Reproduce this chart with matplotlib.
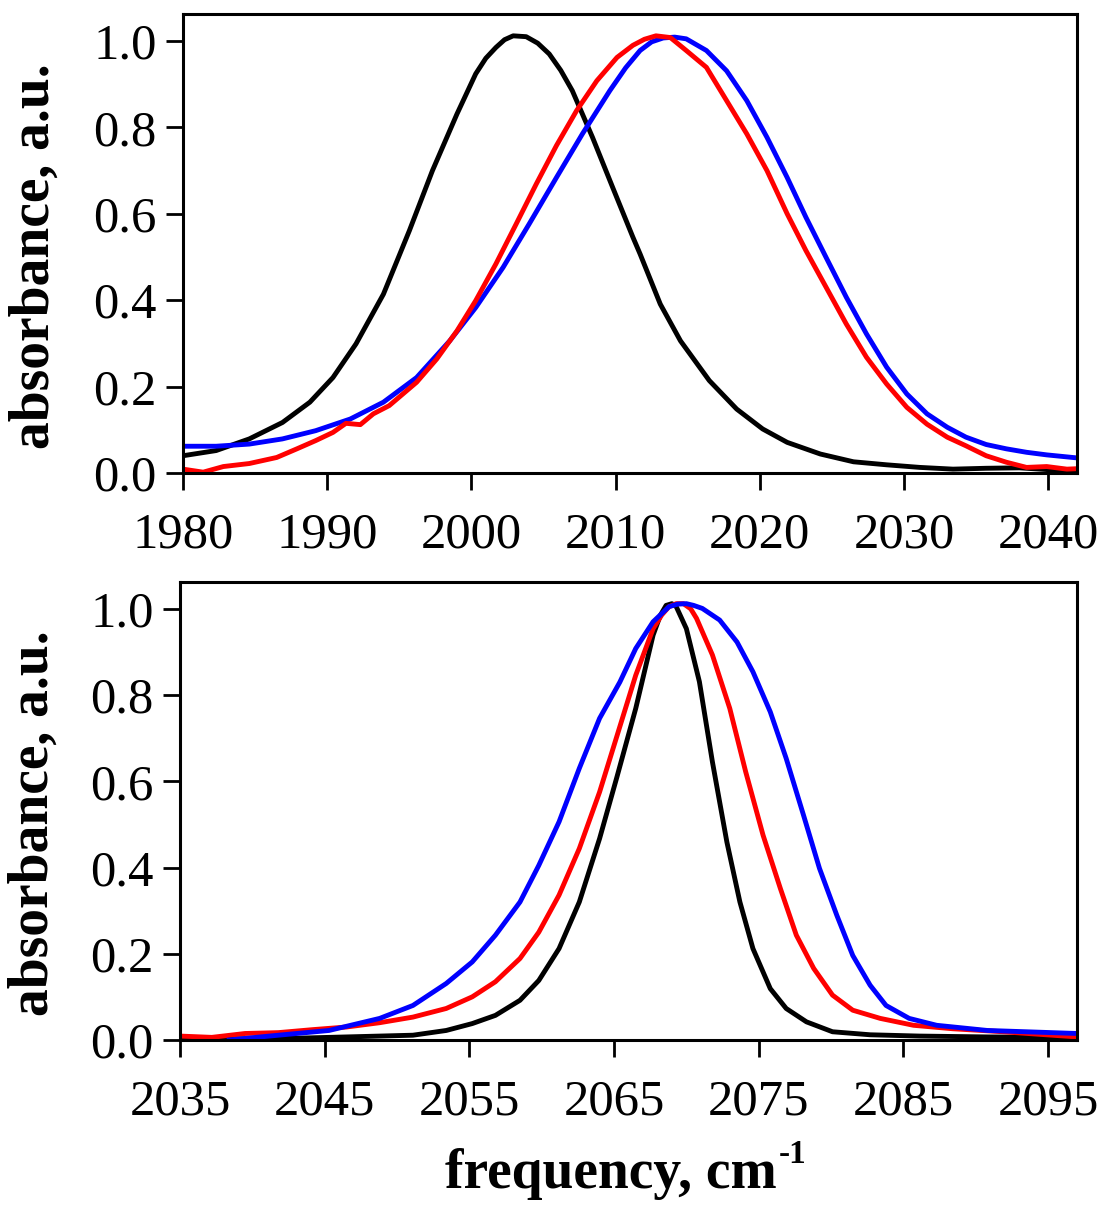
import matplotlib
matplotlib.use("Agg")
import matplotlib.pyplot as plt
from matplotlib.ticker import FormatStrFormatter
from matplotlib.transforms import offset_copy

plt.rcParams['font.family'] = ['Liberation Serif', 'DejaVu Serif']

# upper band, 1980-2042 cm-1
top_black_x = [1980, 1982.3, 1984.6, 1986.9, 1988.8, 1990.4, 1992.0, 1993.9, 1995.7, 1997.3,
               1999.0, 2000.3, 2001.0, 2001.7, 2002.3, 2002.9, 2003.8, 2004.6, 2005.4, 2006.2, 2007.0,
               2008.4, 2009.8, 2011.2, 2011.7, 2013.1, 2014.5, 2016.5, 2018.4, 2020.2, 2021.9,
               2024.2, 2026.5, 2028.8, 2031.1, 2033.4, 2035.7, 2038.0, 2040.4, 2042.0]
top_black_y = [0.040, 0.052, 0.079, 0.117, 0.164, 0.221, 0.299, 0.414, 0.561, 0.700,
               0.831, 0.924, 0.960, 0.985, 1.003, 1.012, 1.010, 0.995, 0.970, 0.932, 0.885,
               0.777, 0.661, 0.546, 0.507, 0.391, 0.306, 0.214, 0.148, 0.102, 0.071,
               0.044, 0.026, 0.019, 0.013, 0.009, 0.011, 0.012, 0.007, 0.007]

top_red_x = [1980, 1981.4, 1982.8, 1984.6, 1986.5, 1987.9, 1989.2, 1990.4, 1991.3, 1992.3,
             1993.2, 1994.3, 1996.2, 1997.6, 1999.0, 2000.3, 2001.7, 2003.1, 2004.5, 2005.9,
             2007.3, 2008.7, 2010.1, 2011.2, 2012.0, 2012.8, 2013.8, 2014.9, 2016.3, 2017.7, 2019.1,
             2020.5, 2021.9, 2023.2, 2024.6, 2026.0, 2027.4, 2028.8, 2030.2, 2031.6, 2033.0,
             2034.3, 2035.7, 2037.1, 2038.5, 2039.9, 2041.3, 2042.0]
top_red_y = [0.009, 0.002, 0.015, 0.022, 0.036, 0.056, 0.075, 0.094, 0.115, 0.112,
             0.137, 0.156, 0.210, 0.264, 0.329, 0.399, 0.484, 0.576, 0.669, 0.758,
             0.839, 0.908, 0.962, 0.990, 1.004, 1.012, 1.008, 0.978, 0.939, 0.862, 0.785,
             0.700, 0.600, 0.515, 0.430, 0.345, 0.268, 0.206, 0.152, 0.113, 0.083,
             0.063, 0.040, 0.025, 0.013, 0.015, 0.009, 0.010]

top_blue_x = [1980, 1982.3, 1984.6, 1986.9, 1989.2, 1991.6, 1993.9, 1996.2, 1998.5, 2000.3,
              2002.2, 2004.0, 2005.9, 2007.7, 2009.6, 2010.7, 2011.7, 2012.5, 2013.3, 2014.1, 2014.9,
              2016.3, 2017.7, 2019.1, 2020.5, 2021.9, 2023.2, 2024.6, 2026.0, 2027.4, 2028.8,
              2030.2, 2031.6, 2033.0, 2034.3, 2035.7, 2037.1, 2038.5, 2039.9, 2042.0]
top_blue_y = [0.062, 0.062, 0.067, 0.079, 0.098, 0.125, 0.164, 0.221, 0.306, 0.383,
              0.476, 0.576, 0.684, 0.785, 0.885, 0.938, 0.978, 0.998, 1.007, 1.009, 1.005,
              0.978, 0.931, 0.862, 0.777, 0.684, 0.592, 0.499, 0.407, 0.322, 0.245,
              0.183, 0.137, 0.106, 0.083, 0.066, 0.056, 0.048, 0.042, 0.035]

# lower band, 2035-2097 cm-1
bot_black_x = [2035, 2041.8, 2046.5, 2051.1, 2053.4, 2055.2, 2056.8, 2058.5, 2059.8, 2061.2,
               2062.6, 2064.0, 2065.2, 2066.5, 2067.7, 2068.2, 2068.6, 2069.0, 2069.3, 2070.0, 2070.9,
               2071.8, 2072.8, 2073.7, 2074.6, 2075.8, 2076.9, 2078.3, 2080.1, 2082.7, 2086.1,
               2090.8, 2097.0]
bot_black_y = [0.002, 0.003, 0.007, 0.011, 0.022, 0.038, 0.057, 0.092, 0.138, 0.212,
               0.320, 0.467, 0.610, 0.769, 0.939, 0.985, 1.008, 1.012, 1.005, 0.954, 0.831,
               0.645, 0.459, 0.320, 0.212, 0.119, 0.073, 0.042, 0.019, 0.012, 0.009,
               0.007, 0.006]

bot_red_x = [2035, 2037.2, 2039.5, 2041.8, 2044.2, 2046.5, 2048.8, 2051.1, 2053.4, 2055.2,
             2056.8, 2058.5, 2059.8, 2061.2, 2062.6, 2064.0, 2065.2, 2066.5, 2067.7, 2068.3, 2068.8,
             2069.3, 2069.8, 2070.3, 2070.7, 2071.8, 2073.0, 2074.1, 2075.3, 2076.5, 2077.6, 2078.8,
             2080.1, 2081.5, 2083.4, 2085.7, 2088.4, 2091.9, 2097.0]
bot_red_y = [0.009, 0.006, 0.015, 0.017, 0.024, 0.030, 0.040, 0.053, 0.073, 0.100,
             0.135, 0.189, 0.250, 0.336, 0.444, 0.575, 0.705, 0.846, 0.954, 0.986, 1.005,
             1.012, 1.012, 1.000, 0.978, 0.893, 0.769, 0.622, 0.475, 0.351, 0.243, 0.166,
             0.104, 0.069, 0.050, 0.034, 0.026, 0.019, 0.007]

bot_blue_x = [2038.4, 2041.8, 2045.3, 2048.8, 2051.1, 2053.4, 2055.2, 2056.8, 2058.5, 2059.8,
              2061.2, 2062.6, 2064.0, 2065.4, 2066.5, 2067.7, 2068.8, 2069.4, 2070.0, 2070.5, 2071.1,
              2072.3, 2073.5, 2074.6, 2075.8, 2076.9, 2078.1, 2079.2, 2080.4, 2081.5, 2082.7,
              2083.8, 2085.4, 2087.3, 2090.8, 2097.0]
bot_blue_y = [0.000, 0.011, 0.022, 0.050, 0.080, 0.131, 0.181, 0.243, 0.320, 0.405,
              0.506, 0.630, 0.746, 0.830, 0.908, 0.970, 1.005, 1.011, 1.012, 1.008, 1.001,
              0.974, 0.923, 0.854, 0.761, 0.653, 0.521, 0.398, 0.289, 0.196, 0.127,
              0.080, 0.050, 0.034, 0.022, 0.015]

top_ticks = [1980, 1990, 2000, 2010, 2020, 2030, 2040]
bot_ticks = [2035, 2045, 2055, 2065, 2075, 2085, 2095]
y_ticks = [0.0, 0.2, 0.4, 0.6, 0.8, 1.0]

fig = plt.figure(figsize=(11.01, 12.07), dpi=100)
ax1 = fig.add_axes([0.1662, 0.6081, 0.8120, 0.3803])
ax2 = fig.add_axes([0.1635, 0.1384, 0.8147, 0.3795])

lw = 3.5
ax1.plot(top_black_x, top_black_y, color='black', lw=lw, solid_joinstyle='round')
ax1.plot(top_blue_x, top_blue_y, color='blue', lw=lw, solid_joinstyle='round')
ax1.plot(top_red_x, top_red_y, color='red', lw=lw, solid_joinstyle='round')
ax1.set_xlim(1980, 2042)
ax1.set_xticks(top_ticks)

ax2.plot(bot_black_x, bot_black_y, color='black', lw=lw, solid_joinstyle='round')
ax2.plot(bot_red_x, bot_red_y, color='red', lw=lw, solid_joinstyle='round')
ax2.plot(bot_blue_x, bot_blue_y, color='blue', lw=lw, solid_joinstyle='round')
ax2.set_xlim(2035, 2097)
ax2.set_xticks(bot_ticks)

for ax, lx in ((ax1, -0.137), (ax2, -0.134)):
    ax.set_ylim(0, 1.0625)
    ax.set_yticks(y_ticks)
    ax.yaxis.set_major_formatter(FormatStrFormatter('%.1f'))
    ax.tick_params(direction='out', length=12, width=2.0, labelsize=36.5, pad=7)
    ax.tick_params(axis='x', pad=16)
    for s in ax.spines.values():
        s.set_linewidth(2.2)
    ax.set_ylabel('absorbance, a.u.', fontsize=40, fontweight='bold')
    ax.yaxis.set_label_coords(lx, 0.473)

# x label with a small raised "-1"
xl = fig.text(0.555, 0.016, 'frequency, cm', fontsize=40, fontweight='bold',
              ha='center', va='baseline')
fig.canvas.draw()
bb = xl.get_window_extent()
sup_tr = offset_copy(fig.transFigure, fig=fig, x=1, y=18, units='points')
fig.text(bb.x1 / fig.bbox.width, 0.016, '-1', fontsize=24, fontweight='bold',
         ha='left', va='baseline', transform=sup_tr)

fig.savefig('out.png', dpi=100)
